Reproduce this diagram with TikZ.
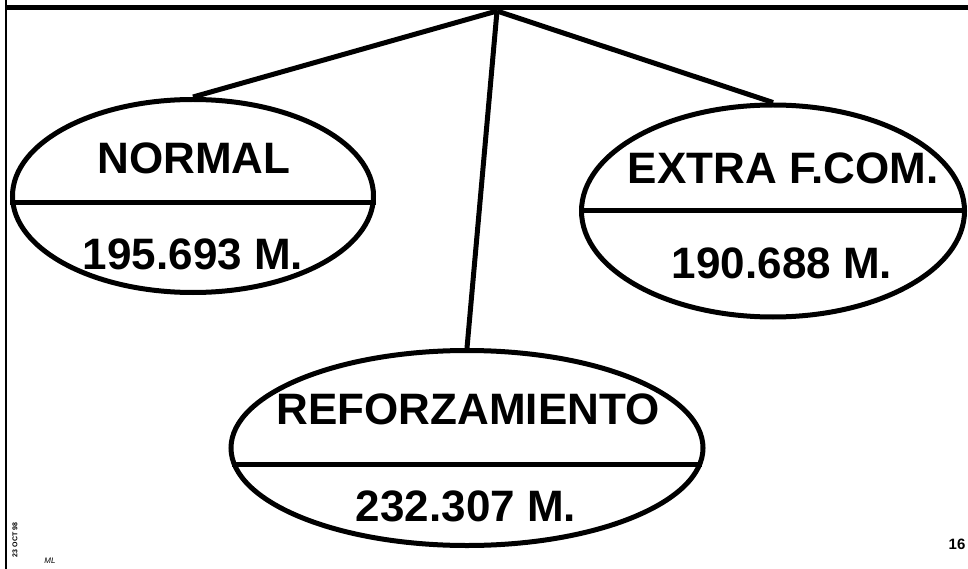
\documentclass[tikz,border=0pt]{standalone}
\usepackage{fontspec}
\setmainfont{Liberation Sans}
\usetikzlibrary{shapes}

\tikzset{
  oval/.style={draw, ellipse, line width=5pt, inner sep=0pt},
  lbl/.style={font=\fontsize{44}{50}\selectfont\bfseries},
  link/.style={line width=5pt},
}

\begin{document}
\begin{tikzpicture}[x=1pt, y=-1pt]
\useasboundingbox (0,0) rectangle (968,569);
% frame of the slide
\draw [line width=5pt] (6,8) -- (968,8);
\draw [line width=2pt] (6,0) -- (6,569);
\coordinate (apex) at (497,11);
% three ovals
\node[oval, minimum width=361, minimum height=193] (normal) at (193,196) {};
\node[oval, minimum width=383, minimum height=212] (extra) at (773,211) {};
\node[oval, minimum width=472, minimum height=195] (refuerzo) at (467,448) {};
\draw [link] (normal.182) -- (normal.358);
\draw [link] (extra.west) -- (extra.east);
\draw [link] (refuerzo.184) -- (refuerzo.356);
% connectors
\draw [link] (apex) -- (normal.north);
\draw [link] (apex) -- (extra.north);
\draw [link] (apex) -- (refuerzo.north);
% labels
\node[lbl] (normaltxt) at (194,158) {NORMAL};
\node[lbl] (normalval) at (193,254) {195.693 M.};
\node[lbl] (extratxt) at (783,168) {EXTRA F.COM.};
\node[lbl] (extraval) at (782,263) {190.688 M.};
\node[lbl] (refuerzotxt) at (468,409) {REFORZAMIENTO};
\node[lbl] (refuerzoval) at (466,506) {232.307 M.};
% page marks
\node[font=\fontsize{7}{8}\selectfont\bfseries, rotate=90] (stamp) at (15,540) {23 OCT 98};
\node[font=\fontsize{8}{9}\selectfont\itshape] (initials) at (50,561) {ML};
\node[font=\fontsize{15}{17}\selectfont\bfseries] (page) at (957,544) {16};
\end{tikzpicture}
\end{document}
